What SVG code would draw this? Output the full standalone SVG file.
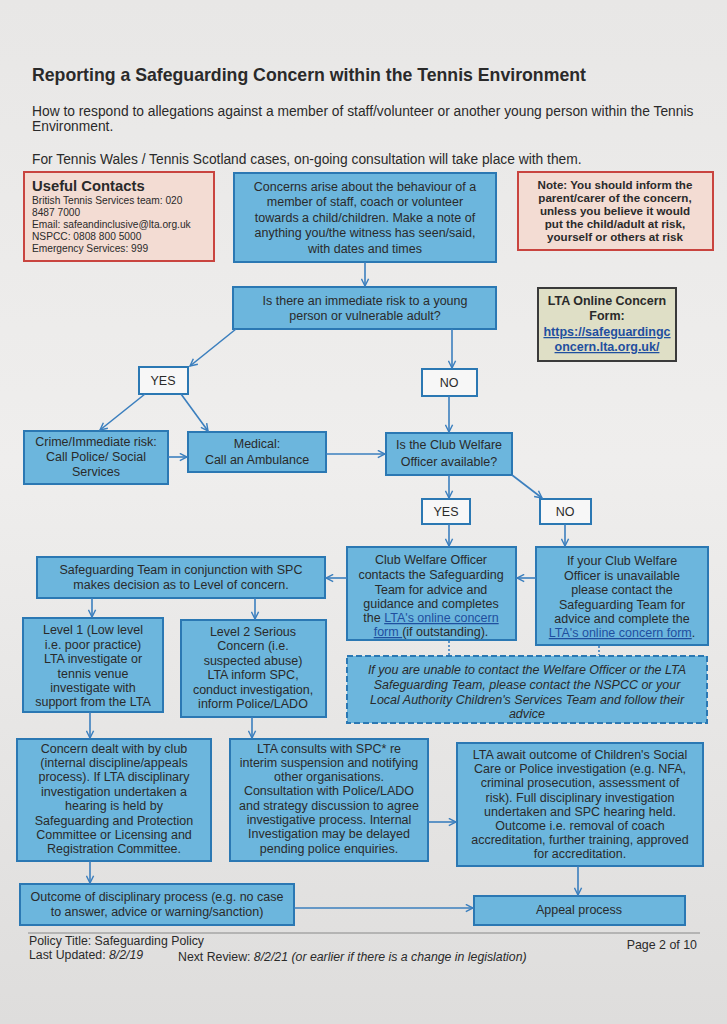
<svg xmlns="http://www.w3.org/2000/svg" width="727" height="1024" viewBox="0 0 727 1024">
<defs>
<linearGradient id="pg" x1="0" y1="0" x2="0" y2="1">
<stop offset="0" stop-color="#e8e7e6"/>
<stop offset="0.45" stop-color="#efeeed"/>
<stop offset="1" stop-color="#dedddc"/>
</linearGradient>
<marker id="ah" viewBox="0 0 10 10" refX="9" refY="5" markerWidth="9" markerHeight="9" orient="auto" markerUnits="userSpaceOnUse">
<path d="M1,1 L9,5 L1,9" fill="none" stroke="#3b7fbe" stroke-width="1.6"/>
</marker>
<style>
.bx{fill:#6cb6dd;stroke:#2b78b3;stroke-width:2}
.wb{fill:#f7f7f7;stroke:#2b78b3;stroke-width:2}
.rb{fill:#f3dcd3;stroke:#c9443f;stroke-width:2}
.t{font-family:"Liberation Sans",Arial,sans-serif;font-size:12.5px;fill:#2a2a2a;text-anchor:middle}
.s{font-family:"Liberation Sans",Arial,sans-serif;font-size:10.2px;fill:#2a2a2a}
.nb{font-family:"Liberation Sans",Arial,sans-serif;font-size:11.6px;font-weight:bold;fill:#2a2a2a;text-anchor:middle}
.h{font-family:"Liberation Sans",Arial,sans-serif;fill:#2a2a2a}
.lk{fill:#1f4f9f;text-decoration:underline}
.c line,.c path{stroke:#3b7fbe;stroke-width:1.6;fill:none}
.dot{stroke:#3b7fbe;stroke-width:1.5;stroke-dasharray:2 2;fill:none}
</style>
</defs>
<rect x="0" y="0" width="727" height="1024" fill="url(#pg)"/>

<g id="header">
<text class="h" x="32" y="81" font-size="17.7" font-weight="bold">Reporting a Safeguarding Concern within the Tennis Environment</text>
<text class="h" x="32" y="116" font-size="13.8">How to respond to allegations against a member of staff/volunteer or another young person within the Tennis</text>
<text class="h" x="32" y="131" font-size="13.8">Environment.</text>
<text class="h" x="32" y="164" font-size="13.8">For Tennis Wales / Tennis Scotland cases, on-going consultation will take place with them.</text>
</g>

<g id="contacts">
<rect class="rb" x="24" y="172" width="190" height="89"/>
<text class="h" x="32" y="191" font-size="14.8" font-weight="bold">Useful Contacts</text>
<text class="s" x="32" y="204">British Tennis Services team: 020</text>
<text class="s" x="32" y="216">8487 7000</text>
<text class="s" x="32" y="228">Email: safeandinclusive@lta.org.uk</text>
<text class="s" x="32" y="240">NSPCC: 0808 800 5000</text>
<text class="s" x="32" y="252">Emergency Services: 999</text>
</g>

<g id="concerns">
<rect class="bx" x="234" y="173" width="262" height="89"/>
<text class="t" x="365" y="191">Concerns arise about the behaviour of a</text>
<text class="t" x="365" y="206">member of staff, coach or volunteer</text>
<text class="t" x="365" y="222">towards a child/children. Make a note of</text>
<text class="t" x="365" y="237">anything you/the witness has seen/said,</text>
<text class="t" x="365" y="253">with dates and times</text>
</g>

<g id="note">
<rect class="rb" x="518" y="172" width="195" height="78"/>
<text class="nb" x="615" y="189">Note: You should inform the</text>
<text class="nb" x="615" y="202">parent/carer of the concern,</text>
<text class="nb" x="615" y="215">unless you believe it would</text>
<text class="nb" x="615" y="228">put the child/adult at risk,</text>
<text class="nb" x="615" y="241">yourself or others at risk</text>
</g>

<g id="risk">
<rect class="bx" x="233" y="287" width="263" height="42"/>
<text class="t" x="365" y="305">Is there an immediate risk to a young</text>
<text class="t" x="365" y="320">person or vulnerable adult?</text>
</g>

<g id="online">
<rect x="538" y="288" width="138" height="73" fill="#dfdfc6" stroke="#3a3a3a" stroke-width="2"/>
<text class="t" x="607" y="305" font-weight="bold" font-size="12">LTA Online Concern</text>
<text class="t" x="607" y="320" font-weight="bold" font-size="12">Form:</text>
<text class="t lk" x="607" y="336" font-weight="bold" font-size="12">https://safeguardingc</text>
<text class="t lk" x="607" y="351" font-weight="bold" font-size="12">oncern.lta.org.uk/</text>
</g>

<g id="yes1">
<rect class="wb" x="139" y="367" width="49" height="27"/>
<text class="t" x="163" y="385">YES</text>
</g>
<g id="no1">
<rect class="wb" x="422" y="369" width="55" height="27"/>
<text class="t" x="449" y="387">NO</text>
</g>

<g id="crime">
<rect class="bx" x="24" y="431" width="144" height="53"/>
<text class="t" x="96" y="446">Crime/Immediate risk:</text>
<text class="t" x="96" y="461">Call Police/ Social</text>
<text class="t" x="96" y="476">Services</text>
</g>

<g id="medical">
<rect class="bx" x="188" y="432" width="138" height="40"/>
<text class="t" x="257" y="448">Medical:</text>
<text class="t" x="257" y="464">Call an Ambulance</text>
</g>

<g id="cwoq">
<rect class="bx" x="386" y="433" width="126" height="42"/>
<text class="t" x="449" y="449">Is the Club Welfare</text>
<text class="t" x="449" y="466">Officer available?</text>
</g>

<g id="yes2">
<rect class="wb" x="422" y="499" width="48" height="25"/>
<text class="t" x="446" y="516">YES</text>
</g>
<g id="no2">
<rect class="wb" x="540" y="499" width="51" height="25"/>
<text class="t" x="565" y="516">NO</text>
</g>

<g id="cwo">
<rect class="bx" x="347" y="547" width="169" height="93"/>
<text class="t" x="431" y="564">Club Welfare Officer</text>
<text class="t" x="431" y="579">contacts the Safeguarding</text>
<text class="t" x="431" y="594">Team for advice and</text>
<text class="t" x="431" y="608">guidance and completes</text>
<text class="t" x="431" y="622">the <tspan class="lk">LTA's online concern</tspan></text>
<text class="t" x="431" y="636"><tspan class="lk">form </tspan>(if outstanding).</text>
</g>

<g id="unavail">
<rect class="bx" x="536" y="547" width="172" height="98"/>
<text class="t" x="622" y="565">If your Club Welfare</text>
<text class="t" x="622" y="580">Officer is unavailable</text>
<text class="t" x="622" y="594">please contact the</text>
<text class="t" x="622" y="609">Safeguarding Team for</text>
<text class="t" x="622" y="623">advice and complete the</text>
<text class="t" x="622" y="637"><tspan class="lk">LTA's online concern form</tspan>.</text>
</g>

<g id="sgteam">
<rect class="bx" x="37" y="557" width="288" height="41"/>
<text class="t" x="181" y="574">Safeguarding Team in conjunction with SPC</text>
<text class="t" x="181" y="589">makes decision as to Level of concern.</text>
</g>

<g id="level1">
<rect class="bx" x="23" y="618" width="140" height="94"/>
<text class="t" x="93" y="634">Level 1 (Low level</text>
<text class="t" x="93" y="649">i.e. poor practice)</text>
<text class="t" x="93" y="663">LTA investigate or</text>
<text class="t" x="93" y="678">tennis venue</text>
<text class="t" x="93" y="692">investigate with</text>
<text class="t" x="93" y="706">support from the LTA</text>
</g>

<g id="level2">
<rect class="bx" x="181" y="620" width="145" height="97"/>
<text class="t" x="253" y="636">Level 2 Serious</text>
<text class="t" x="253" y="650">Concern (i.e.</text>
<text class="t" x="253" y="665">suspected abuse)</text>
<text class="t" x="253" y="679">LTA inform SPC,</text>
<text class="t" x="253" y="694">conduct investigation,</text>
<text class="t" x="253" y="708">inform Police/LADO</text>
</g>

<g id="unable">
<rect x="347" y="656" width="360" height="67" fill="#6cb6dd" stroke="#2b78b3" stroke-width="2" stroke-dasharray="6 3"/>
<text class="t" x="527" y="674" font-style="italic">If you are unable to contact the Welfare Officer or the LTA</text>
<text class="t" x="527" y="689" font-style="italic">Safeguarding Team, please contact the NSPCC or your</text>
<text class="t" x="527" y="704" font-style="italic">Local Authority Children's Services Team and follow their</text>
<text class="t" x="527" y="718" font-style="italic">advice</text>
</g>

<g id="dealt">
<rect class="bx" x="17" y="739" width="194" height="122"/>
<text class="t" x="114" y="753">Concern dealt with by club</text>
<text class="t" x="114" y="767">(internal discipline/appeals</text>
<text class="t" x="114" y="781">process). If LTA disciplinary</text>
<text class="t" x="114" y="796">investigation undertaken a</text>
<text class="t" x="114" y="810">hearing is held by</text>
<text class="t" x="114" y="825">Safeguarding and Protection</text>
<text class="t" x="114" y="839">Committee or Licensing and</text>
<text class="t" x="114" y="853">Registration Committee.</text>
</g>

<g id="consults">
<rect class="bx" x="230" y="739" width="198" height="122"/>
<text class="t" x="329" y="753">LTA consults with SPC* re</text>
<text class="t" x="329" y="767">interim suspension and notifying</text>
<text class="t" x="329" y="781">other organisations.</text>
<text class="t" x="329" y="795">Consultation with Police/LADO</text>
<text class="t" x="329" y="810">and strategy discussion to agree</text>
<text class="t" x="329" y="824">investigative process. Internal</text>
<text class="t" x="329" y="838">Investigation may be delayed</text>
<text class="t" x="329" y="853">pending police enquiries.</text>
</g>

<g id="await">
<rect class="bx" x="457" y="743" width="246" height="123"/>
<text class="t" x="580" y="759">LTA await outcome of Children's Social</text>
<text class="t" x="580" y="773">Care or Police investigation (e.g. NFA,</text>
<text class="t" x="580" y="787">criminal prosecution, assessment of</text>
<text class="t" x="580" y="802">risk). Full disciplinary investigation</text>
<text class="t" x="580" y="816">undertaken and SPC hearing held.</text>
<text class="t" x="580" y="830">Outcome i.e. removal of coach</text>
<text class="t" x="580" y="844">accreditation, further training, approved</text>
<text class="t" x="580" y="858">for accreditation.</text>
</g>

<g id="outcome">
<rect class="bx" x="20" y="884" width="274" height="41"/>
<text class="t" x="157" y="901">Outcome of disciplinary process (e.g. no case</text>
<text class="t" x="157" y="916">to answer, advice or warning/sanction)</text>
</g>

<g id="appeal">
<rect class="bx" x="474" y="896" width="211" height="29"/>
<text class="t" x="579" y="914">Appeal process</text>
</g>

<g id="connectors" class="c">
<line x1="365" y1="262" x2="365" y2="286" marker-end="url(#ah)"/>
<line x1="236" y1="329" x2="190" y2="366" marker-end="url(#ah)"/>
<line x1="452" y1="329" x2="452" y2="368" marker-end="url(#ah)"/>
<line x1="145" y1="394" x2="100" y2="430" marker-end="url(#ah)"/>
<line x1="181" y1="394" x2="208" y2="431" marker-end="url(#ah)"/>
<line x1="168" y1="457" x2="187" y2="457" marker-end="url(#ah)"/>
<line x1="326" y1="454" x2="385" y2="454" marker-end="url(#ah)"/>
<line x1="449" y1="396" x2="449" y2="432" marker-end="url(#ah)"/>
<line x1="449" y1="475" x2="449" y2="498" marker-end="url(#ah)"/>
<line x1="512" y1="475" x2="542" y2="498" marker-end="url(#ah)"/>
<line x1="449" y1="524" x2="449" y2="546" marker-end="url(#ah)"/>
<line x1="565" y1="524" x2="565" y2="546" marker-end="url(#ah)"/>
<line x1="536" y1="578" x2="517" y2="578" marker-end="url(#ah)"/>
<line x1="347" y1="578" x2="326" y2="578" marker-end="url(#ah)"/>
<line x1="92" y1="598" x2="92" y2="617" marker-end="url(#ah)"/>
<line x1="255" y1="598" x2="255" y2="619" marker-end="url(#ah)"/>
<line x1="90" y1="712" x2="90" y2="738" marker-end="url(#ah)"/>
<line x1="252" y1="717" x2="252" y2="738" marker-end="url(#ah)"/>
<line x1="428" y1="822" x2="456" y2="822" marker-end="url(#ah)"/>
<line x1="90" y1="861" x2="90" y2="883" marker-end="url(#ah)"/>
<line x1="294" y1="908" x2="473" y2="908" marker-end="url(#ah)"/>
<line x1="578" y1="866" x2="578" y2="895" marker-end="url(#ah)"/>
<line class="dot" x1="449" y1="641" x2="449" y2="655"/>
<line class="dot" x1="599" y1="646" x2="599" y2="655"/>
</g>

<g id="footer">
<line x1="28" y1="933" x2="700" y2="933" stroke="#888" stroke-width="1"/>
<text class="h" x="29" y="945" font-size="12.3">Policy Title: Safeguarding Policy</text>
<text class="h" x="29" y="959" font-size="12.3">Last Updated: <tspan font-style="italic">8/2/19</tspan></text>
<text class="h" x="178" y="961" font-size="12.3">Next Review: <tspan font-style="italic">8/2/21 (or earlier if there is a change in legislation)</tspan></text>
<text class="h" x="697" y="949" font-size="12.4" text-anchor="end">Page 2 of 10</text>
</g>
</svg>
